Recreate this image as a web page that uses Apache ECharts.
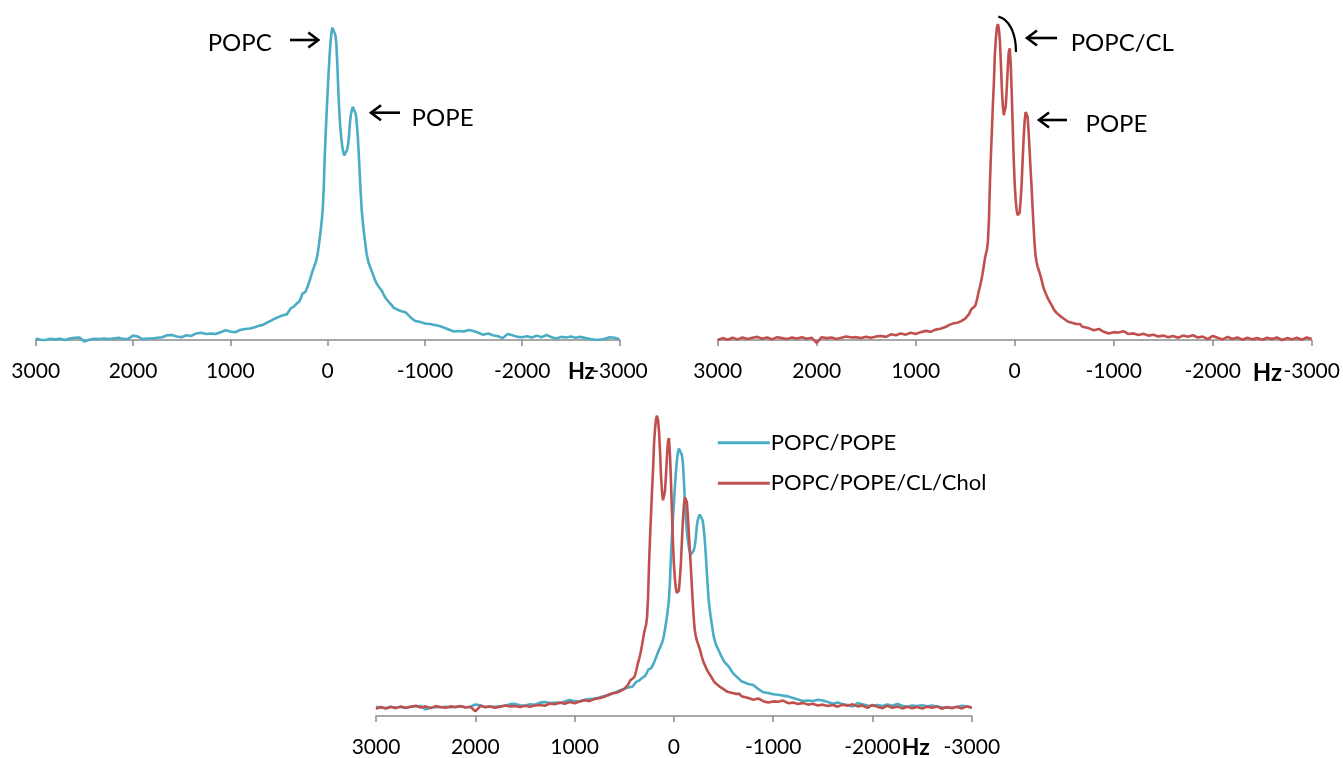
<!DOCTYPE html>
<html>
<head>
<meta charset="utf-8">
<script src="https://cdn.jsdelivr.net/npm/echarts@6/dist/echarts.min.js"></script>
<style>
html,body{margin:0;padding:0;background:#fff;}
#chart{width:1343px;height:758px;}
</style>
</head>
<body>
<div id="chart"></div>
<script>
// Frequency axis (Hz), shared by both spectra
const hz = [
  3000,2950,2900,2850,2800,2750,2700,2650,2600,2550,
  2500,2450,2400,2350,2300,2250,2200,2150,2100,2050,
  2000,1950,1900,1850,1800,1750,1700,1650,1600,1550,
  1500,1450,1400,1350,1300,1250,1200,1150,1100,1050,
  1000,950,900,850,800,750,
  700,680,660,640,620,600,580,560,540,520,500,480,460,440,420,
  400,390,380,370,360,350,340,330,320,310,
  300,290,280,270,260,250,240,230,220,210,
  200,190,180,170,160,150,140,130,120,110,
  100,90,80,70,60,50,40,30,20,10,
  0,-10,-20,-30,-40,-50,-60,-70,-80,-90,
  -100,-110,-120,-130,-140,-150,-160,-170,-180,-190,
  -200,-210,-220,-230,-240,-250,-260,-270,-280,-290,
  -300,-310,-320,-330,-340,-350,-360,-370,-380,-390,
  -400,
  -420,-440,-460,-480,-500,-520,-540,-560,-580,-600,-620,-640,-660,-680,-700,
  -750,-800,-850,-900,-950,
  -1000,-1050,-1100,-1150,-1200,-1250,-1300,-1350,-1400,-1450,
  -1500,-1550,-1600,-1650,-1700,-1750,-1800,-1850,-1900,-1950,
  -2000,-2050,-2100,-2150,-2200,-2250,-2300,-2350,-2400,-2450,
  -2500,-2550,-2600,-2650,-2700,-2750,-2800,-2850,-2900,-2950,
  -3000
];

// POPC/POPE spectrum (normalised intensity, main peak = 100)
const popcPope = [
  0.2,-0.2,-0.3,0.1,-0.1,0.1,-0.3,0.2,0.4,0.5,
  -0.8,-0.2,0.1,0,0.2,0,0.2,0.4,0,0.1,
  1.1,0.8,0,0.2,0.2,0.4,0.6,1.2,1.3,0.8,
  0.6,1.2,1.0,1.8,2.0,1.6,1.8,1.6,2.2,2.8,
  2.4,2.2,2.9,3.2,3.4,3.8,
  4.3,4.6,4.6,5.0,5.3,5.5,5.9,6.2,6.6,6.9,7.1,7.3,7.6,7.8,7.9,
  8.8,9.4,9.8,10.0,10.1,10.3,10.5,10.9,11.3,11.6,
  11.9,12.1,12.6,13.5,14.5,14.8,14.9,15.0,15.6,16.4,
  17.3,18.2,19.2,20.2,21.2,22.2,23.0,23.9,24.8,26.0,
  27.8,30.0,32.5,35.0,38.0,41.5,48.0,58.0,65.5,72.5,
  79.0,85.0,90.5,95.0,98.2,99.7,100,99.3,97.3,94.5,
  88.0,79.5,73.0,68.0,64.5,61.8,60.0,58.8,58.4,58.8,
  60.5,62.2,65.0,69.5,72.0,73.5,74.3,74.5,73.8,72.0,
  69.0,65.0,59.5,53.0,47.0,41.5,38.0,35.0,32.5,30.0,
  27.5,
  24.5,22.8,21.2,19.5,18.0,17.0,16.2,15.3,14.0,13.0,12.2,11.5,10.8,10.0,9.4,
  9.0,8.6,7.0,5.8,5.5,
  5.0,4.8,4.5,4.2,3.6,3.0,2.4,2.6,2.4,2.9,
  2.6,2.0,1.4,1.8,1.2,0.9,0.3,1.6,1.2,0.7,
  0.6,0.9,0.5,1.1,0.6,1.3,0.6,0.2,0.7,0.5,
  0.8,0.4,0.7,0.3,0,-0.2,-0.2,0.1,0.6,0.4,
  -0.1
];

// POPC/POPE/CL/Chol spectrum (normalised intensity, main peak = 100)
const popcPopeClChol = [
  -0.5,0.1,-0.4,0.2,-0.3,0.3,-0.2,0.2,0.5,-0.1,
  0.3,-0.3,0.4,0.1,-0.2,0.3,0.0,0.4,-0.1,0.2,
  -1.4,0.4,0.1,0.3,-0.2,0.2,0.6,0.3,0.4,0.1,
  0.5,0.2,0.6,0.8,0.5,1.3,1.0,1.6,1.2,1.8,
  1.4,2.0,2.4,2.1,2.8,3.1,
  3.6,3.9,4.3,4.2,4.8,4.6,5.0,5.2,5.5,6.0,6.3,6.7,7.8,9.2,9.6,
  10.3,11.2,12.5,14.0,15.4,16.6,18.0,19.6,21.5,23.5,
  25.5,27.0,28.3,31.0,38.0,49.5,58.5,66.5,74.5,81.5,
  90.5,95.5,98.8,100,98.5,94.8,88.0,79.5,74.0,71.0,
  70.6,74.0,79.5,86.0,91.0,92.3,87.0,78.0,67.3,57.0,
  49.0,44.0,40.8,39.2,38.7,40.0,44.0,49.0,56.5,63.5,
  69.0,72.0,72.6,70.5,66.0,60.0,54.0,48.5,42.0,36.0,
  30.5,26.5,24.5,23.0,22.0,21.0,20.0,18.8,17.5,16.3,
  15.3,14.6,13.8,13.1,12.4,11.8,11.3,10.8,10.2,9.6,
  9.0,
  8.2,7.6,7.1,6.5,6.2,5.6,5.3,5.6,5.0,5.4,4.6,4.2,4.6,3.8,3.6,
  3.2,2.6,3.0,2.1,1.6,
  2.0,1.9,2.3,1.4,1.6,1.1,1.5,0.9,1.2,0.6,
  0.9,0.4,0.8,0.2,0.9,0.5,1.0,0.3,0.6,-0.2,
  0.8,0.2,-0.3,0.5,-0.2,0.3,-0.4,0.2,-0.3,0.1,
  -0.4,0.2,-0.2,0.3,-0.5,0.1,-0.3,0.2,-0.4,0.3,
  -0.2
];

const seriesNames = ['POPC/POPE', 'POPC/POPE/CL/Chol'];
const xTicks = { min: -3000, max: 3000, interval: 1000 };

const BLUE = '#4BACC6';
const RED = '#C0504D';
const FONT = 'Lato';

function pairs(vals) { return hz.map((h, i) => [h, vals[i]]); }

function xAxisFor(gridIndex) {
  return {
    type: 'value', gridIndex: gridIndex, inverse: true,
    min: xTicks.min, max: xTicks.max, interval: xTicks.interval,
    axisLine: { show: true, onZero: false, lineStyle: { color: '#8c8c8c', width: 1.5 } },
    axisTick: { show: true, length: 6, lineStyle: { color: '#8c8c8c', width: 1.5 } },
    axisLabel: { show: true, margin: 21, color: '#000', fontFamily: FONT, fontSize: 21,
                 showMinLabel: true, showMaxLabel: true,
                 formatter: function (v) { return String(v); } },
    splitLine: { show: false }
  };
}
function yAxisFor(gridIndex, min, max) {
  return { type: 'value', gridIndex: gridIndex, min: min, max: max, show: false,
           splitLine: { show: false } };
}
function lineSeries(name, vals, color, xi, yi) {
  return {
    type: 'line', name: name, data: pairs(vals), xAxisIndex: xi, yAxisIndex: yi,
    showSymbol: false, symbol: 'none', clip: false, smooth: false,
    lineStyle: { color: color, width: 2.6 }, itemStyle: { color: color },
    emphasis: { disabled: true }, silent: true
  };
}

function arrow(x1, x2, y) {
  const d = x2 > x1 ? 1 : -1;
  return [
    { type: 'line', shape: { x1: x1, y1: y, x2: x2 - d * 1, y2: y }, style: { stroke: '#000', lineWidth: 2.6 } },
    { type: 'polyline', shape: { points: [[x2 - d * 10, y - 7.5], [x2, y], [x2 - d * 10, y + 7.5]] },
      style: { stroke: '#000', lineWidth: 2.6, fill: null, lineJoin: 'miter' } }
  ];
}
function label(text, x, y, align, size, weight) {
  return { type: 'text', x: x, y: y,
    style: { text: text, fill: '#000', font: (weight || 'normal') + ' ' + size + 'px ' + FONT,
             textAlign: align, textVerticalAlign: 'middle', align: align, verticalAlign: 'middle' } };
}

const chart = echarts.init(document.getElementById('chart'), null, { renderer: 'canvas' });
chart.setOption({
  animation: false,
  backgroundColor: '#fff',
  grid: [
    { left: 35.7, right: 723.5, top: 26.7, bottom: 418 },
    { left: 717.7, right: 31.3, top: 24, bottom: 418 },
    { left: 376, right: 371.2, top: 415.7, bottom: 38.7 }
  ],
  xAxis: [xAxisFor(0), xAxisFor(1), xAxisFor(2)],
  yAxis: [
    yAxisFor(0, -0.3, 100),
    yAxisFor(1, -0.5, 100),
    yAxisFor(2, -3, 100),
    yAxisFor(2, -3.36, 112.4)
  ],
  legend: {
    data: seriesNames, orient: 'vertical', left: 712.8, top: 425.7,
    icon: 'rect', itemWidth: 52, itemHeight: 3, itemGap: 16.6,
    selectedMode: false,
    textStyle: { fontFamily: FONT, fontSize: 22, color: '#000', lineHeight: 24, padding: [0, 0, 0, -4] }
  },
  series: [
    lineSeries('top-left', popcPope, BLUE, 0, 0),
    lineSeries('top-right', popcPopeClChol, RED, 1, 1),
    lineSeries(seriesNames[0], popcPope, BLUE, 2, 3),
    lineSeries(seriesNames[1], popcPopeClChol, RED, 2, 2)
  ],
  graphic: [].concat(
    [label('POPC', 271.7, 43.7, 'right', 24)],
    arrow(290, 318.3, 40),
    arrow(400, 371, 112.7),
    [label('POPE', 411.6, 118, 'left', 24)],
    [{ type: 'bezierCurve',
       shape: { x1: 998.3, y1: 16.7, cpx1: 1009, cpy1: 19, cpx2: 1016, cpy2: 33, x2: 1016, y2: 52 },
       style: { stroke: '#000', lineWidth: 2.2, fill: null } }],
    arrow(1057, 1027, 38),
    [label('POPC/CL', 1070.7, 43, 'left', 24)],
    arrow(1067, 1039, 120),
    [label('POPE', 1085.5, 124.7, 'left', 24)],
    [label('Hz', 581.3, 372, 'center', 22, 'bold'),
     label('Hz', 1267.4, 373, 'center', 24, 'bold'),
     label('Hz', 915.8, 747.5, 'center', 23, 'bold')]
  )
});
</script>
</body>
</html>
